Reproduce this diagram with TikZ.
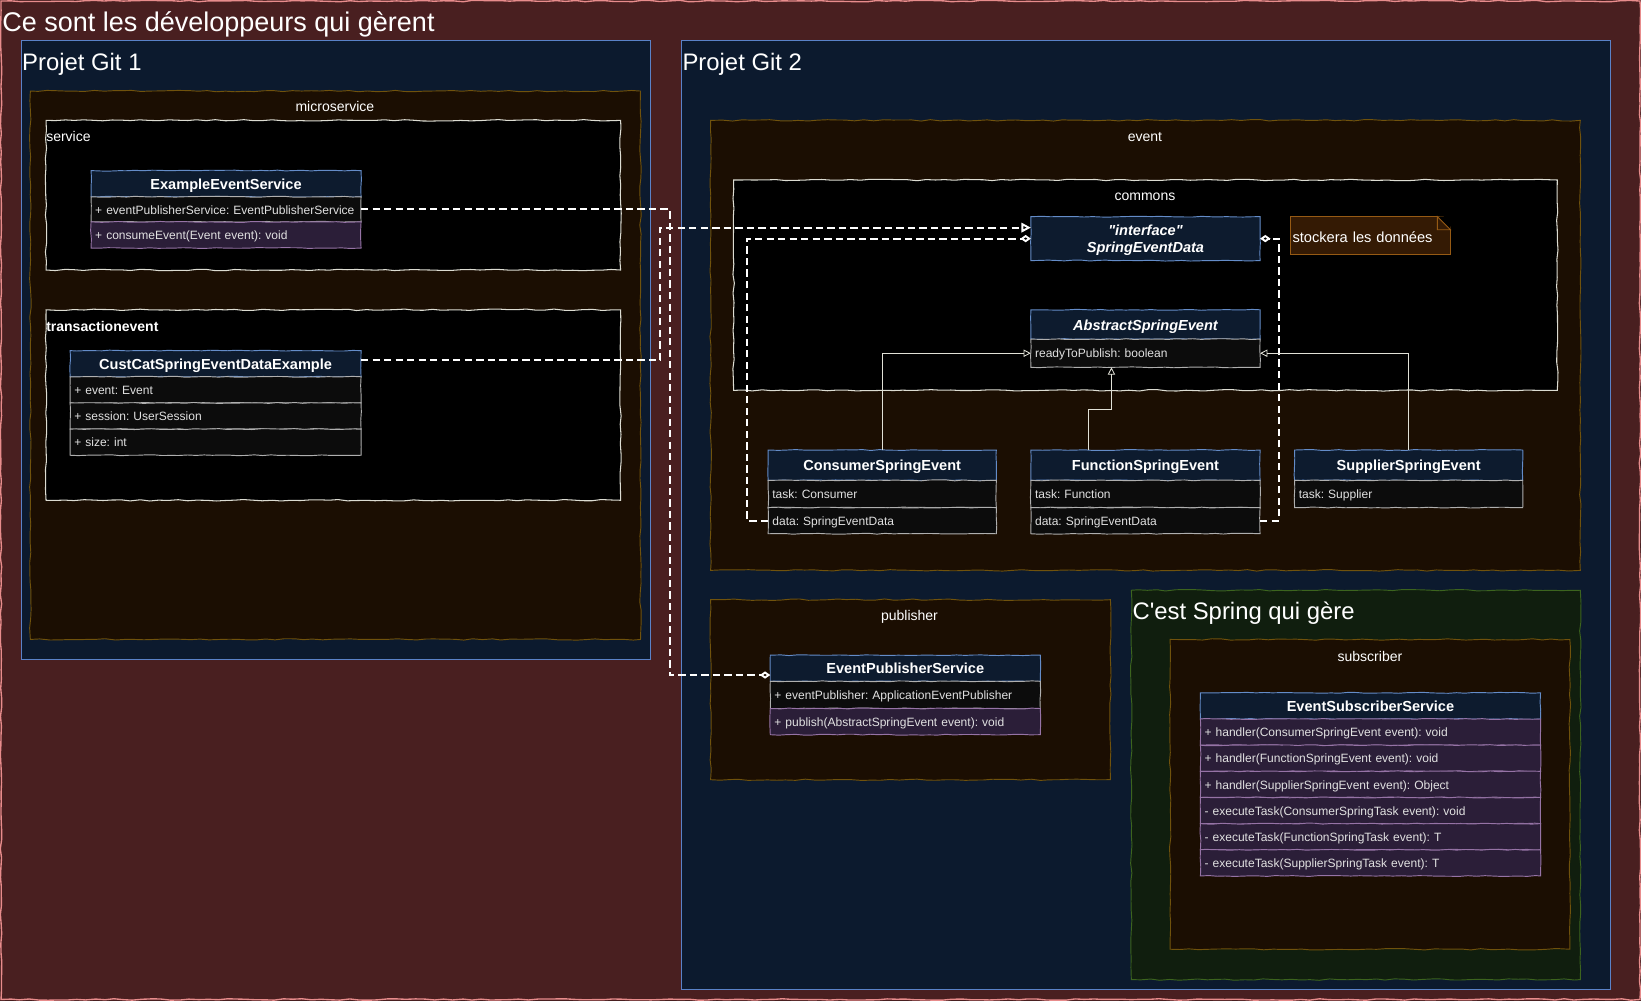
\documentclass[tikz,border=0pt]{standalone}
\usepackage{fontspec}
\setmainfont{Liberation Sans}[Ligatures=TeXOff]
\usetikzlibrary{arrows.meta,decorations.pathmorphing,calc}
\definecolor{outerbg}{RGB}{73,31,32}
\definecolor{outerbd}{RGB}{232,140,140}
\definecolor{gitbg}{RGB}{12,26,46}
\definecolor{gitbd}{RGB}{90,130,200}
\definecolor{pkgbg}{RGB}{27,14,2}
\definecolor{pkgbd}{RGB}{112,82,12}
\definecolor{innbd}{RGB}{220,220,210}
\definecolor{hdrbg}{RGB}{13,27,46}
\definecolor{hdrbd}{RGB}{100,140,200}
\definecolor{rowbg}{RGB}{12,12,12}
\definecolor{rowbd}{RGB}{175,175,175}
\definecolor{purbg}{RGB}{43,30,56}
\definecolor{purbd}{RGB}{150,115,166}
\definecolor{notebg}{RGB}{52,26,4}
\definecolor{notebd}{RGB}{150,90,20}
\definecolor{grnbg}{RGB}{16,30,14}
\definecolor{grnbd}{RGB}{60,100,30}
\definecolor{memtx}{RGB}{225,225,225}
\definecolor{linegr}{RGB}{225,225,215}
\newcommand{\memf}{\fontsize{11.5}{13}\selectfont}
\newcommand{\hdrf}{\fontsize{13.9}{17}\selectfont\bfseries}
\newcommand{\lblf}{\fontsize{13.4}{15}\selectfont}
\newcommand{\gitf}{\fontsize{22.8}{26}\selectfont}
\newcommand{\ttlf}{\fontsize{25.8}{29}\selectfont}
\newcommand{\notef}{\fontsize{14}{16}\selectfont}
\frenchspacing
\begin{document}
\pgfmathsetseed{11}
\begin{tikzpicture}[x=1pt,y=-1pt,
  sketch/.style={decorate,decoration={random steps,segment length=9pt,amplitude=0.7pt}},
  fine/.style={decorate,decoration={random steps,segment length=8pt,amplitude=0.45pt}},
  box/.style={anchor=north west,inner sep=0pt,outer sep=0pt},
  git/.style={box,draw=gitbd,fill=gitbg,line width=0.8pt},
  pkg/.style={box,draw=pkgbd,fill=pkgbg,line width=0.9pt,sketch},
  inn/.style={box,draw=innbd,fill=black,line width=1pt,sketch},
  grn/.style={box,draw=grnbd,fill=grnbg,line width=0.9pt,sketch},
  lbl/.style={inner sep=0pt,text=white,font=\lblf,text depth=0pt,yshift=-1.5pt},
  gitlbl/.style={anchor=west,inner sep=0pt,text=white,font=\gitf,text depth=0pt},
  hdr/.style={box,draw=hdrbd,fill=hdrbg,line width=0.9pt,align=center,text=white,font=\hdrf,fine,text height=11pt,text depth=0pt},
  row/.style={box,draw=rowbd,fill=rowbg,line width=0.9pt,inner xsep=4pt,align=left,text=memtx,font=\memf,fine,text height=9pt,text depth=0pt},
  prow/.style={row,draw=purbd,fill=purbg},
  dep/.style={draw=white,line width=1.8pt,dash pattern=on 7pt off 4pt},
  dia/.style={-{Diamond[open,length=10pt,width=7pt]}},
  inh/.style={draw=linegr,line width=0.8pt,-{Triangle[open,length=7pt,width=7pt]}}
]
\useasboundingbox (0,0) rectangle (1568,956);
\fill[outerbg] (0,0) rectangle (1568,956);
\draw[outerbd,line width=1.3pt,sketch] (1,1) rectangle (1567,955);
\node[anchor=west,inner sep=0pt,text=white,font=\ttlf,text depth=0pt] (ttl) at (2,21) {Ce sont les développeurs qui gèrent};

% Projet Git 1
\node[git,minimum width=601,minimum height=591] (git1) at (20,39) {};
\node[gitlbl] (git1l) at (21,59) {Projet Git 1};
\node[pkg,minimum width=583,minimum height=524] (micro) at (29,87) {};
\node[lbl] (microl) at (320,100) {microservice};
\node[inn,minimum width=549,minimum height=143] (svc) at (44,115) {};
\node[lbl,anchor=west] (svcl) at (44,129) {service};
\node[inn,minimum width=549,minimum height=182] (trx) at (44,296) {};
\node[lbl,anchor=west,font=\lblf\bfseries] (trxl) at (44,310) {transactionevent};

% Projet Git 2
\node[git,minimum width=888,minimum height=906] (git2) at (651,39) {};
\node[gitlbl] (git2l) at (652,59) {Projet Git 2};
\node[pkg,minimum width=831,minimum height=430] (evt) at (679,115) {};
\node[lbl] (evtl) at (1094,129) {event};
\node[inn,minimum width=787,minimum height=201] (cmn) at (701,172) {};
\node[lbl] (cmnl) at (1094,186) {commons};
\node[pkg,minimum width=382,minimum height=172] (pub) at (679,573) {};
\node[lbl] (publ) at (869,587) {publisher};
\node[grn,minimum width=429,minimum height=372] (spr) at (1081,564) {};
\node[gitlbl] (sprl) at (1082,584) {C'est Spring qui gère};
\node[pkg,minimum width=382,minimum height=296] (sub) at (1118,611) {};
\node[lbl] (subl) at (1309,626) {subscriber};

% ExampleEventService
\node[hdr,text width=258,minimum height=25] (ees) at (87,163) {ExampleEventService};
\node[row,text width=250,minimum height=24] (ees1) at (87,188) {+ eventPublisherService: EventPublisherService};
\node[prow,text width=250,minimum height=25] (ees2) at (87,212) {+ consumeEvent(Event event): void};

% CustCatSpringEventDataExample
\node[hdr,text width=278,minimum height=25] (cc) at (67,335) {CustCatSpringEventDataExample};
\node[row,text width=270,minimum height=25] (cc1) at (67,360) {+ event: Event};
\node[row,text width=270,minimum height=25] (cc2) at (67,385) {+ session: UserSession};
\node[row,text width=270,minimum height=25] (cc3) at (67,410) {+ size: int};

% SpringEventData
\node[box,draw=hdrbd,fill=hdrbg,line width=0.9pt,fine,minimum width=219,minimum height=42] (sed) at (985,207) {};
\node[inner sep=0pt,align=center,text=white,font={\fontsize{13.9}{17}\selectfont\bfseries\itshape}] (sedt) at ($(sed.center)+(0,1.5)$) {"interface"\\SpringEventData};
% note
\node[box,draw=notebd,fill=notebg,line width=0.9pt,minimum width=153,minimum height=36,text width=149,inner xsep=2pt,align=left,text=white,font=\notef,text height=13pt,text depth=0pt] (note) at (1233,207) {stockera les données};
\fill[black] ($(note.north east)+(-12.5,0)$) -- ($(note.north east)+(0.8,-0.8)$) -- ($(note.north east)+(0,12.5)$) -- cycle;
\draw[notebd,fill=notebg,line width=0.9pt] ($(note.north east)+(-12.5,0)$) -- ($(note.north east)+(-12.5,12.5)$) -- ($(note.north east)+(0,12.5)$) -- cycle;

% AbstractSpringEvent
\node[hdr,text width=219,minimum height=28,font=\hdrf\itshape] (ase) at (985,296) {AbstractSpringEvent};
\node[row,text width=211,minimum height=27] (ase1) at (985,324) {readyToPublish: boolean};

% Consumer / Function / Supplier
\node[hdr,text width=218,minimum height=29] (cse) at (734,430) {ConsumerSpringEvent};
\node[row,text width=210,minimum height=26] (cse1) at (734,459) {task: Consumer};
\node[row,text width=210,minimum height=25] (cse2) at (734,485) {data: SpringEventData};
\node[hdr,text width=219,minimum height=29] (fse) at (985,430) {FunctionSpringEvent};
\node[row,text width=211,minimum height=26] (fse1) at (985,459) {task: Function};
\node[row,text width=211,minimum height=25] (fse2) at (985,485) {data: SpringEventData};
\node[hdr,text width=218,minimum height=29] (sse) at (1237,430) {SupplierSpringEvent};
\node[row,text width=210,minimum height=26] (sse1) at (1237,459) {task: Supplier};

% EventPublisherService
\node[hdr,text width=258,minimum height=25] (eps) at (736,626) {EventPublisherService};
\node[row,text width=250,minimum height=26] (eps1) at (736,651) {+ eventPublisher: ApplicationEventPublisher};
\node[prow,text width=250,minimum height=25] (eps2) at (736,677) {+ publish(AbstractSpringEvent event): void};

% EventSubscriberService
\node[hdr,text width=325,minimum height=25] (ess) at (1147,662) {EventSubscriberService};
\node[prow,text width=317,minimum height=25] (ess1) at (1147,687) {+ handler(ConsumerSpringEvent event): void};
\node[prow,text width=317,minimum height=25] (ess2) at (1147,712) {+ handler(FunctionSpringEvent event): void};
\node[prow,text width=317,minimum height=25] (ess3) at (1147,737) {+ handler(SupplierSpringEvent event): Object};
\node[prow,text width=317,minimum height=25] (ess4) at (1147,762) {- executeTask(ConsumerSpringTask event): void};
\node[prow,text width=317,minimum height=25] (ess5) at (1147,787) {- executeTask(FunctionSpringTask event): T};
\node[prow,text width=317,minimum height=25] (ess6) at (1147,812) {- executeTask(SupplierSpringTask event): T};

% connectors
\coordinate (busA) at (640,0);
\coordinate (busB) at (631,0);
\coordinate (busC) at (714,0);
\coordinate (busD) at (1222,0);
\coordinate (ccA) at ($(cc.east)+(0,-3.5)$);
\coordinate (sedA) at ($(sed.west)+(0,-10.5)$);
\coordinate (epsA) at ($(eps.south west)+(0,-6)$);
\draw[dep,dia] (ees1.east) -- (ees1.east -| busA) |- (epsA);
\draw[dep,-{Triangle[open,length=9pt,width=9pt]}] (ccA) -- (ccA -| busB) |- (sedA);
\draw[dep,dia] (cse2.west) -- (cse2.west -| busC) |- (sed.west);
\draw[dep,dia] (fse2.east) -- (fse2.east -| busD) |- (sed.east);
\draw[inh] (cse.north) |- (ase1.west);
\coordinate (fA) at (1040,391);
\coordinate (fB) at (1062,391);
\draw[inh] (fse.north -| fA) -- (fA) -- (fB) -- (fB |- ase1.south);
\draw[inh] (sse.north) |- (ase1.east);
\end{tikzpicture}
\end{document}
